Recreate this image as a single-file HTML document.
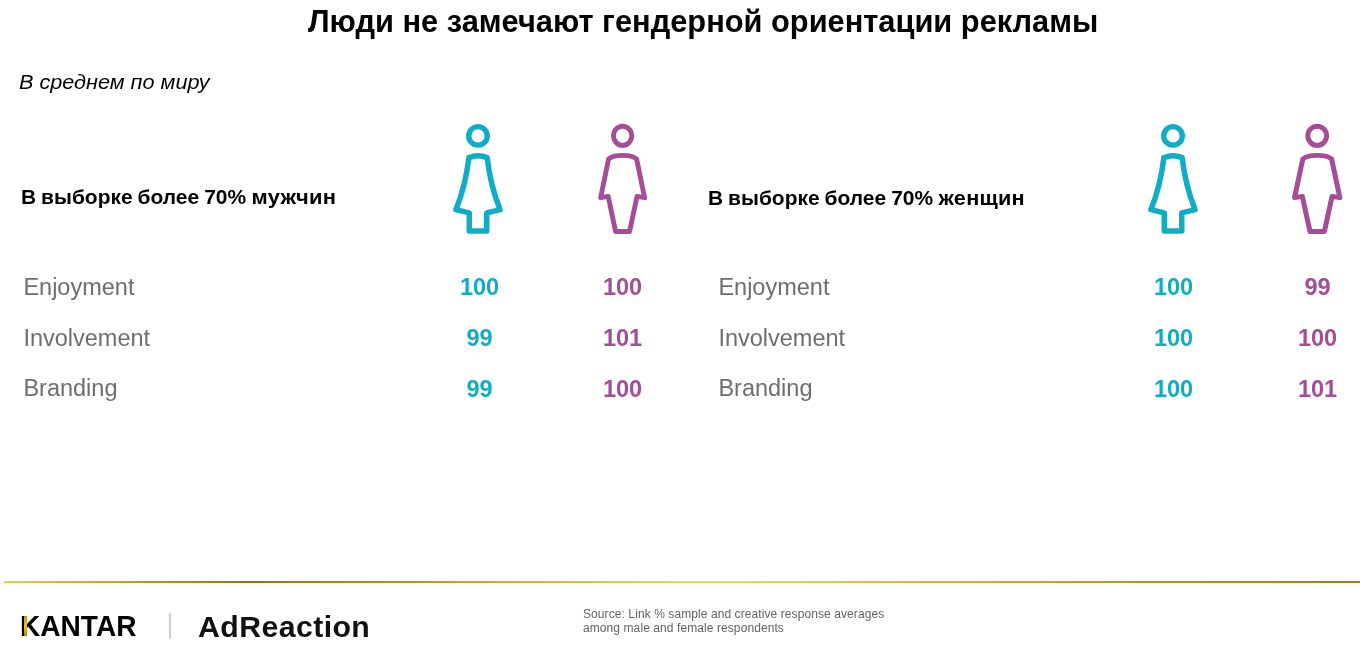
<!DOCTYPE html>
<html lang="ru">
<head>
<meta charset="utf-8">
<title>Люди не замечают гендерной ориентации рекламы</title>
<style>
html,body{margin:0;padding:0;background:#fff;}
body{width:1360px;height:647px;position:relative;overflow:hidden;font-family:"Liberation Sans",sans-serif;}
.t{position:absolute;white-space:nowrap;line-height:1;transform-origin:0 0;}
#title{left:308px;top:5.7px;font-size:30.5px;font-weight:bold;color:#000;transform:scaleX(1.0095);}
#sub{left:18.6px;top:71.7px;font-size:20px;font-style:italic;color:#000;transform:scaleX(1.082);}
.h{font-size:20px;font-weight:bold;color:#000;transform:scaleX(1.048);word-spacing:-0.8px;}
.h span{display:inline-block;transform-origin:0 50%;}
.lab{font-size:23.5px;color:#6d6e71;}
.num{font-size:23.5px;font-weight:bold;width:80px;text-align:center;}
.teal{color:#10adc4;}
.pur{color:#a64d98;}
#line{position:absolute;left:4px;top:581px;width:1356px;height:2px;background:linear-gradient(90deg,#e8ca4c 0%,#c79a26 9%,#a0720f 18%,#b88c22 28%,#d8b440 40%,#f0d85e 52%,#e2c04a 62%,#c79c2c 78%,#a67c18 100%);}
#kantar{left:19.9px;top:612px;font-size:28.9px;font-weight:bold;color:#000;transform:scaleX(0.972);}
#kgold{position:absolute;left:24.3px;top:615.6px;width:2.8px;height:20.8px;background:linear-gradient(180deg,#b8901e 0%,#e6c040 45%,#e0b838 60%,#a87c14 100%);}
#sep{position:absolute;left:169.2px;top:613.2px;width:1.4px;height:26.2px;background:#cdcdcd;}
#adr{left:198.2px;top:612.6px;font-size:28.9px;font-weight:bold;color:#111;letter-spacing:0.4px;transform:scaleX(1.047);}
#src{left:583px;top:608px;font-size:12px;line-height:13.6px;color:#626367;white-space:pre;letter-spacing:0.085px;}
svg{position:absolute;left:0;top:0;}
</style>
</head>
<body>
<div class="t" id="title">Люди не замечают гендерной ориентации рекламы</div>
<div class="t" id="sub">В среднем по миру</div>

<div class="t h" id="h1" style="left:20.5px;top:186.6px;">В выборке более 70% <span style="transform:scaleX(1.045);letter-spacing:0.3px">мужчин</span></div>
<div class="t h" id="h2" style="left:707.5px;top:187.7px;">В выборке более 70% <span style="transform:scaleX(1.035);letter-spacing:0.2px">женщин</span></div>

<svg width="1360" height="647" viewBox="0 0 1360 647" fill="none" stroke-linejoin="round" stroke-linecap="round">
 <defs>
  <g id="fem">
   <circle cx="0" cy="135.9" r="9.27" stroke-width="5.4"/>
   <path stroke-width="5.5" d="M-9.1 157.6 Q0 154 9.1 157.6 Q12.5 186 22.1 209.6 L8.75 212.8 L8.75 231 L-8.75 231 L-8.75 212.8 L-22.1 209.6 Q-12.5 186 -9.1 157.6 Z"/>
  </g>
  <g id="mal">
   <circle cx="0" cy="0" r="9.15" stroke-width="4.8" transform="translate(0 135.85) scale(1 1.045)"/>
   <path stroke-width="4.9" d="M-14 159 C-9 154.2 9 154.2 14 159 L22 197.7 L14.4 196.4 L7 231.5 L-7 231.5 L-14.4 196.4 L-22 197.7 Z"/>
  </g>
 </defs>
 <use href="#fem" x="478" stroke="#10adc4"/>
 <use href="#mal" x="622.6" stroke="#a64d98"/>
 <use href="#fem" x="1173" stroke="#10adc4"/>
 <use href="#mal" transform="translate(1317.2 0) scale(1.03 1)" stroke="#a64d98"/>
</svg>

<div class="t lab" style="left:23.4px;top:275.5px;">Enjoyment</div>
<div class="t lab" style="left:23.4px;top:326.5px;">Involvement</div>
<div class="t lab" style="left:23.4px;top:377.3px;">Branding</div>
<div class="t num teal" style="left:439.6px;top:276px;">100</div>
<div class="t num teal" style="left:439.6px;top:327px;">99</div>
<div class="t num teal" style="left:439.6px;top:378px;">99</div>
<div class="t num pur" style="left:582.6px;top:276px;">100</div>
<div class="t num pur" style="left:582.6px;top:327px;">101</div>
<div class="t num pur" style="left:582.6px;top:378px;">100</div>

<div class="t lab" style="left:718.4px;top:275.5px;">Enjoyment</div>
<div class="t lab" style="left:718.4px;top:326.5px;">Involvement</div>
<div class="t lab" style="left:718.4px;top:377.3px;">Branding</div>
<div class="t num teal" style="left:1133.6px;top:276px;">100</div>
<div class="t num teal" style="left:1133.6px;top:327px;">100</div>
<div class="t num teal" style="left:1133.6px;top:378px;">100</div>
<div class="t num pur" style="left:1277.6px;top:276px;">99</div>
<div class="t num pur" style="left:1277.6px;top:327px;">100</div>
<div class="t num pur" style="left:1277.6px;top:378px;">101</div>

<div id="line"></div>
<div class="t" id="kantar">KANTAR</div>
<div id="kgold"></div>
<div id="sep"></div>
<div class="t" id="adr">AdReaction</div>
<div class="t" id="src">Source: Link % sample and creative response averages
among male and female respondents</div>
</body>
</html>
